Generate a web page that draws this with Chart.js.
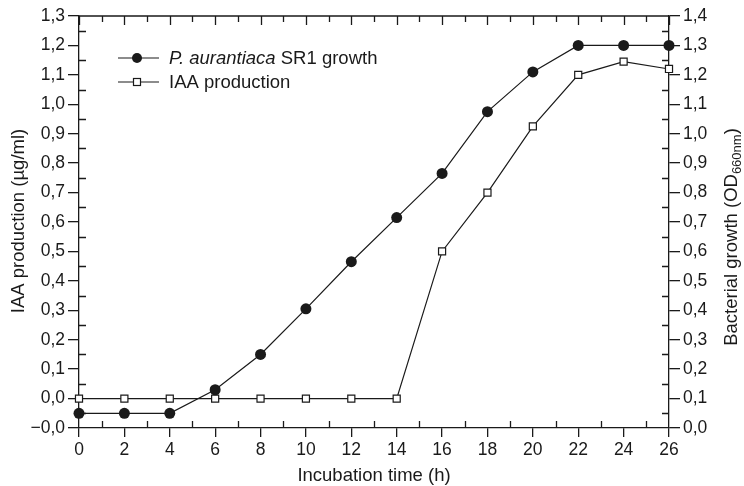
<!DOCTYPE html>
<html>
<head>
<meta charset="utf-8">
<script src="https://cdn.jsdelivr.net/npm/chart.js@4"></script>
<style>
  html, body { margin: 0; padding: 0; background: #fff; }
  #wrap { width: 744px; height: 486px; }
</style>
</head>
<body>
<div id="wrap"><canvas id="c" width="744" height="486"></canvas></div>
<script>
// data
const hours = [0, 2, 4, 6, 8, 10, 12, 14, 16, 18, 20, 22, 24, 26];
const growth = [0.05, 0.05, 0.05, 0.13, 0.25, 0.405, 0.565, 0.715, 0.865, 1.075, 1.21, 1.3, 1.3, 1.3]; // OD660nm, right axis
const iaa = [0, 0, 0, 0, 0, 0, 0, 0, 0.5, 0.7, 0.925, 1.1, 1.145, 1.12]; // ug/ml, left axis
const leftTicks = [-0.1, 1.3, 0.1];
const rightTicks = [0, 1.4, 0.1];

const INK = "#1a1a1a";
const FONT = "'Liberation Sans', Arial, sans-serif";

function comma(v) {
  if (v < -0.05) return "\u22120,0";
  return v.toFixed(1).replace(".", ",");
}

// minor ticks, top frame, legend and axis titles
const decor = {
  id: "decor",
  afterDraw(chart) {
    const ctx = chart.ctx;
    const a = chart.chartArea;
    const x = chart.scales.x, yl = chart.scales.yL, yr = chart.scales.yR;
    ctx.save();
    ctx.strokeStyle = INK;
    ctx.lineWidth = 1.3;
    ctx.beginPath();
    // top frame
    ctx.moveTo(a.left, a.top);
    ctx.lineTo(a.right, a.top);
    for (let h = 0; h <= 26; h++) {
      const px = Math.round(x.getPixelForValue(h)) + 0.5;
      const len = h % 2 === 0 ? 9 : 6;
      ctx.moveTo(px, a.top);
      ctx.lineTo(px, a.top + len);
      if (h % 2 === 1) {
        ctx.moveTo(px, a.bottom);
        ctx.lineTo(px, a.bottom - 7);
      }
    }
    for (let i = 0; i < 14; i++) {
      const vl = leftTicks[0] + 0.05 + i * 0.1;
      const py = Math.round(yl.getPixelForValue(vl)) + 0.5;
      ctx.moveTo(a.left, py);
      ctx.lineTo(a.left + 7, py);
      const vr = rightTicks[0] + 0.05 + i * 0.1;
      const pr = Math.round(yr.getPixelForValue(vr)) + 0.5;
      ctx.moveTo(a.right, pr);
      ctx.lineTo(a.right - 7, pr);
    }
    ctx.stroke();

    // legend
    const items = [
      { y: 58, circle: true, parts: [["italic ", "P. aurantiaca"], ["", " SR1 growth"]] },
      { y: 82, circle: false, parts: [["", "IAA production"]] }
    ];
    ctx.lineWidth = 1.2;
    items.forEach(function (it) {
      ctx.beginPath();
      ctx.moveTo(118, it.y);
      ctx.lineTo(159, it.y);
      ctx.stroke();
      if (it.circle) {
        ctx.beginPath();
        ctx.arc(137, it.y, 5, 0, Math.PI * 2);
        ctx.fillStyle = INK;
        ctx.fill();
      } else {
        ctx.fillStyle = "#fff";
        ctx.fillRect(133.5, it.y - 3.5, 7, 7);
        ctx.strokeRect(133.5, it.y - 3.5, 7, 7);
      }
      let tx = 169;
      ctx.fillStyle = INK;
      ctx.textBaseline = "middle";
      ctx.textAlign = "left";
      it.parts.forEach(function (p) {
        ctx.font = p[0] + "18.5px " + FONT;
        ctx.fillText(p[1], tx, it.y + 1);
        tx += ctx.measureText(p[1]).width;
      });
    });

    // x title
    ctx.font = "18.5px " + FONT;
    ctx.textAlign = "center";
    ctx.textBaseline = "alphabetic";
    ctx.fillText("Incubation time (h)", (a.left + a.right) / 2, 481);

    // left title
    ctx.save();
    ctx.translate(24, 221);
    ctx.rotate(-Math.PI / 2);
    ctx.fillText("IAA production (\u00b5g/ml)", 0, 0);
    ctx.restore();

    // right title, read bottom to top, with subscript
    ctx.translate(737, 237);
    ctx.rotate(-Math.PI / 2);
    const t1 = "Bacterial growth (OD", t2 = "660nm", t3 = ")";
    ctx.font = "18.5px " + FONT;
    const w1 = ctx.measureText(t1).width;
    const w3 = ctx.measureText(t3).width;
    ctx.font = "13px " + FONT;
    const w2 = ctx.measureText(t2).width;
    let sx = -(w1 + w2 + w3) / 2;
    ctx.textAlign = "left";
    ctx.font = "18.5px " + FONT;
    ctx.fillText(t1, sx, 0);
    sx += w1;
    ctx.font = "13px " + FONT;
    ctx.fillText(t2, sx, 4);
    sx += w2;
    ctx.font = "18.5px " + FONT;
    ctx.fillText(t3, sx, 0);
    ctx.restore();
  }
};

Chart.defaults.font.family = FONT;
Chart.defaults.font.size = 17.5;
Chart.defaults.color = INK;

new Chart(document.getElementById("c").getContext("2d"), {
  type: "line",
  data: {
    datasets: [
      {
        label: "P. aurantiaca SR1 growth",
        data: hours.map((h, i) => ({ x: h, y: growth[i] })),
        yAxisID: "yR",
        borderColor: INK,
        borderWidth: 1.2,
        pointStyle: "circle",
        pointRadius: 5.5,
        pointBackgroundColor: INK,
        pointBorderColor: INK,
        pointBorderWidth: 0,
        tension: 0
      },
      {
        label: "IAA production",
        data: hours.map((h, i) => ({ x: h, y: iaa[i] })),
        yAxisID: "yL",
        borderColor: INK,
        borderWidth: 1.2,
        pointStyle: "rect",
        pointRadius: 5,
        pointBackgroundColor: "#fff",
        pointBorderColor: INK,
        pointBorderWidth: 1.2,
        tension: 0
      }
    ]
  },
  options: {
    responsive: false,
    animation: false,
    clip: false,
    layout: { padding: { top: 16, left: 0, right: 0, bottom: 0 } },
    plugins: { legend: { display: false }, tooltip: { enabled: false } },
    scales: {
      x: {
        type: "linear",
        min: 0,
        max: 26,
        ticks: { stepSize: 2, padding: 3, color: INK },
        grid: { drawOnChartArea: false, drawTicks: true, tickLength: 9, color: INK, lineWidth: 1.3 },
        border: { display: true, color: INK, width: 1.3 },
        afterFit(s) { s.height = 58; }
      },
      yL: {
        type: "linear",
        position: "left",
        min: leftTicks[0],
        max: leftTicks[1],
        ticks: { stepSize: leftTicks[2], padding: 3, color: INK, autoSkip: false, callback: (v) => comma(v) },
        grid: { drawOnChartArea: false, drawTicks: true, tickLength: 11, color: INK, lineWidth: 1.3 },
        border: { display: true, color: INK, width: 1.3 },
        afterFit(s) { s.width = 79; }
      },
      yR: {
        type: "linear",
        position: "right",
        min: rightTicks[0],
        max: rightTicks[1],
        ticks: { stepSize: rightTicks[2], padding: 3, color: INK, autoSkip: false, callback: (v) => comma(v) },
        grid: { drawOnChartArea: false, drawTicks: true, tickLength: 11, color: INK, lineWidth: 1.3 },
        border: { display: true, color: INK, width: 1.3 },
        afterFit(s) { s.width = 75; }
      }
    }
  },
  plugins: [decor]
});
</script>
</body>
</html>
